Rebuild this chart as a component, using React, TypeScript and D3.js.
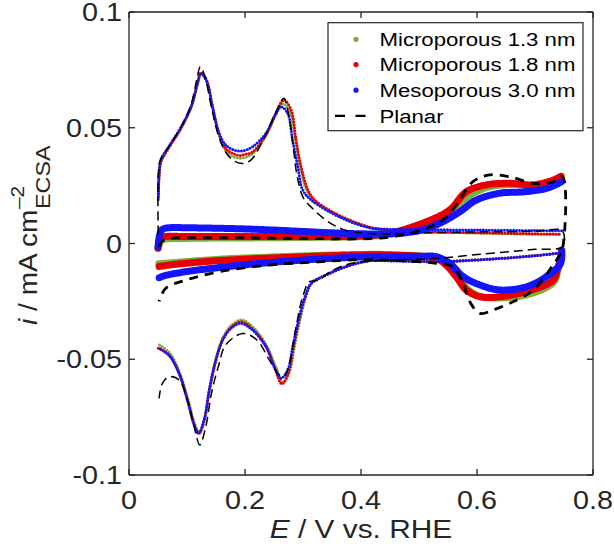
import React from 'react';
import * as d3 from 'd3';

type Pt = [number, number];

// axis ticks
const xTicks = [0, 0.2, 0.4, 0.6, 0.8];
const xTickLabels = ['0', '0.2', '0.4', '0.6', '0.8'];
const yTicks = [-0.1, -0.05, 0, 0.05, 0.1];
const yTickLabels = ['-0.1', '-0.05', '0', '0.05', '0.1'];

const seriesNames = ['Microporous 1.3 nm', 'Microporous 1.8 nm', 'Mesoporous 3.0 nm', 'Planar'];
const seriesColors = ['#7fae3c', '#e60000', '#1414ff', '#000000'];

// Microporous 1.3 nm
const micro13HAnodic: Pt[] = [
  [0.0505, 0.021], [0.052, 0.031], [0.055, 0.0365], [0.069, 0.0418], [0.089, 0.0495], [0.107, 0.059],
  [0.118, 0.069], [0.124, 0.0735], [0.134, 0.0702], [0.144, 0.059], [0.1555, 0.047], [0.167, 0.040],
  [0.18, 0.0375], [0.191, 0.0368], [0.2, 0.0372], [0.213, 0.0388], [0.236, 0.0465], [0.2535, 0.0558],
  [0.2655, 0.0605], [0.278, 0.0565], [0.287, 0.0447], [0.2955, 0.0332], [0.306, 0.0231], [0.318, 0.0188],
  [0.343, 0.0145], [0.378, 0.0102], [0.418, 0.0066], [0.45, 0.0056], [0.5, 0.005], [0.6, 0.0045],
  [0.7, 0.004], [0.746, 0.004],
];
const micro13HCathodic: Pt[] = [
  [0.746, -0.004], [0.7, -0.0052], [0.65, -0.0062], [0.6, -0.007], [0.55, -0.0076], [0.5, -0.0076],
  [0.45, -0.0073], [0.415, -0.0073], [0.376, -0.0098], [0.336, -0.014], [0.316, -0.0168], [0.305, -0.023],
  [0.294, -0.034], [0.2855, -0.0445], [0.277, -0.055], [0.2655, -0.06], [0.2535, -0.0535], [0.2385, -0.0446],
  [0.2155, -0.0365], [0.195, -0.033], [0.178, -0.035], [0.163, -0.04], [0.151, -0.0485], [0.1395, -0.062],
  [0.1305, -0.075], [0.1215, -0.0815], [0.1135, -0.078], [0.1015, -0.067], [0.087, -0.0555], [0.07, -0.0472],
  [0.05, -0.0434],
];
const micro13DlAnodic: Pt[] = [
  [0.05, -0.002], [0.055, 0.001], [0.06, 0.0018], [0.1, 0.0022], [0.2, 0.0024], [0.3, 0.0026], [0.4, 0.003],
  [0.45, 0.004], [0.52, 0.0085], [0.55, 0.012], [0.57, 0.0175], [0.6, 0.0225], [0.622, 0.0245], [0.66, 0.0255],
  [0.7, 0.025], [0.73, 0.0265], [0.746, 0.028],
];
const micro13DlCathodic: Pt[] = [
  [0.746, -0.004], [0.74, -0.011], [0.731, -0.017], [0.685, -0.0222], [0.639, -0.0235], [0.605, -0.0228],
  [0.585, -0.02], [0.567, -0.0145], [0.55, -0.0095], [0.53, -0.0065], [0.45, -0.0048], [0.386, -0.0048],
  [0.27, -0.0056], [0.155, -0.0068], [0.08, -0.0082], [0.049, -0.0088],
];

// Microporous 1.8 nm
const micro18HAnodic: Pt[] = [
  [0.0505, 0.019], [0.052, 0.029], [0.055, 0.035], [0.069, 0.0415], [0.089, 0.0495], [0.107, 0.059],
  [0.118, 0.069], [0.124, 0.0738], [0.134, 0.0705], [0.144, 0.059], [0.1555, 0.047], [0.167, 0.041],
  [0.18, 0.0388], [0.19, 0.038], [0.2, 0.0385], [0.213, 0.0396], [0.236, 0.047], [0.2535, 0.0565],
  [0.2666, 0.062], [0.2795, 0.0577], [0.288, 0.0447], [0.2967, 0.0332], [0.3086, 0.0231], [0.32, 0.0188],
  [0.345, 0.0145], [0.38, 0.0102], [0.42, 0.0068], [0.45, 0.0058], [0.5, 0.0052], [0.6, 0.0046],
  [0.7, 0.0042], [0.746, 0.004],
];
const micro18HCathodic: Pt[] = [
  [0.746, -0.004], [0.7, -0.0053], [0.65, -0.0063], [0.6, -0.0071], [0.55, -0.0077], [0.5, -0.0077],
  [0.45, -0.0074], [0.415, -0.0074], [0.375, -0.0099], [0.335, -0.0142], [0.315, -0.017], [0.3035, -0.0235],
  [0.292, -0.0345], [0.2835, -0.0448], [0.275, -0.056], [0.2635, -0.0607], [0.2515, -0.054], [0.237, -0.0448],
  [0.214, -0.0372], [0.194, -0.0338], [0.1765, -0.0362], [0.162, -0.0414], [0.1505, -0.05], [0.139, -0.063],
  [0.13, -0.076], [0.1205, -0.0822], [0.113, -0.0786], [0.101, -0.0678], [0.0866, -0.0563], [0.0693, -0.0484],
  [0.05, -0.0452],
];
const micro18DlAnodic: Pt[] = [
  [0.05, -0.002], [0.053, 0.0015], [0.06, 0.0028], [0.1, 0.003], [0.2, 0.003], [0.3, 0.003], [0.4, 0.0032],
  [0.45, 0.0045], [0.5125, 0.0094], [0.553, 0.0145], [0.5817, 0.0224], [0.616, 0.0253], [0.6566, 0.026],
  [0.697, 0.0253], [0.7313, 0.0274], [0.746, 0.0292],
];
const micro18DlCathodic: Pt[] = [
  [0.746, -0.003], [0.74, -0.01], [0.731, -0.0158], [0.685, -0.0208], [0.639, -0.023], [0.605, -0.023],
  [0.5817, -0.0201], [0.5643, -0.0143], [0.547, -0.0093], [0.53, -0.0065], [0.45, -0.005], [0.386, -0.005],
  [0.2707, -0.006], [0.1555, -0.0074], [0.08, -0.009], [0.049, -0.01],
];

// Mesoporous 3.0 nm
const meso30HAnodic: Pt[] = [
  [0.0505, 0.02], [0.052, 0.03], [0.055, 0.036], [0.069, 0.042], [0.089, 0.05], [0.107, 0.059],
  [0.118, 0.069], [0.124, 0.0735], [0.134, 0.07], [0.144, 0.059], [0.1555, 0.0476], [0.167, 0.0425],
  [0.181, 0.0404], [0.195, 0.04], [0.213, 0.0418], [0.236, 0.0476], [0.2535, 0.0562], [0.262, 0.0591],
  [0.2736, 0.0562], [0.282, 0.0447], [0.291, 0.0332], [0.2995, 0.0231], [0.314, 0.0188], [0.34, 0.0145],
  [0.374, 0.0102], [0.415, 0.0068], [0.45, 0.0062], [0.5, 0.006], [0.6, 0.0058], [0.7, 0.0056],
  [0.746, 0.0055],
];
const meso30HCathodic: Pt[] = [
  [0.746, -0.004], [0.7, -0.0053], [0.65, -0.0063], [0.6, -0.0071], [0.55, -0.0078], [0.5, -0.0078],
  [0.45, -0.0075], [0.415, -0.0075], [0.374, -0.01], [0.334, -0.0143], [0.314, -0.0172], [0.3024, -0.0237],
  [0.2909, -0.0345], [0.2822, -0.0446], [0.2736, -0.0546], [0.262, -0.0582], [0.2505, -0.0532], [0.2361, -0.0446],
  [0.2131, -0.0374], [0.193, -0.0345], [0.1757, -0.0366], [0.1613, -0.0417], [0.1497, -0.0503], [0.1382, -0.0633],
  [0.1296, -0.0762], [0.1198, -0.082], [0.1123, -0.0784], [0.1007, -0.0676], [0.0864, -0.0561], [0.0691, -0.0482],
  [0.05, -0.0449],
];
const meso30DlAnodic: Pt[] = [
  [0.05, -0.0015], [0.053, 0.004], [0.058, 0.0062], [0.07, 0.0068], [0.1, 0.0068], [0.15, 0.0066], [0.2, 0.0063],
  [0.25, 0.0058], [0.3, 0.0052], [0.35, 0.0046], [0.4, 0.0042], [0.45, 0.0042], [0.5, 0.0055], [0.541, 0.0094],
  [0.57, 0.0137], [0.599, 0.0188], [0.639, 0.0217], [0.685, 0.0224], [0.72, 0.0238], [0.746, 0.0267],
];
const meso30DlCathodic: Pt[] = [
  [0.746, -0.003], [0.744, -0.0086], [0.72, -0.0143], [0.685, -0.0187], [0.639, -0.0201], [0.605, -0.0179],
  [0.576, -0.0143], [0.553, -0.0086], [0.53, -0.0057], [0.5, -0.0056], [0.45, -0.0056], [0.4147, -0.0057],
  [0.329, -0.0067], [0.213, -0.0089], [0.098, -0.0122], [0.06, -0.014], [0.05, -0.015],
];

// Planar
const planarHAnodic: Pt[] = [
  [0.0505, 0.004], [0.0505, 0.03], [0.054, 0.036], [0.069, 0.042], [0.089, 0.05], [0.107, 0.06], [0.117, 0.071],
  [0.123, 0.0764], [0.131, 0.072], [0.142, 0.059], [0.155, 0.046], [0.168, 0.039], [0.182, 0.0355],
  [0.196, 0.0346], [0.21, 0.036], [0.232, 0.045], [0.252, 0.056], [0.267, 0.0627], [0.275, 0.056],
  [0.283, 0.042], [0.29, 0.029], [0.3, 0.02], [0.315, 0.0155], [0.34, 0.01], [0.37, 0.006], [0.42, 0.0042],
  [0.5, 0.0045], [0.6, 0.005], [0.7, 0.0052], [0.747, 0.0055],
];
const planarHCathodic: Pt[] = [
  [0.747, -0.0014], [0.7, -0.0025], [0.657, -0.0035], [0.6, -0.0048], [0.55, -0.006], [0.5, -0.0068],
  [0.45, -0.0072], [0.4, -0.008], [0.37, -0.0095], [0.345, -0.0125], [0.325, -0.016], [0.311, -0.0165],
  [0.2995, -0.023], [0.288, -0.036], [0.2765, -0.0518], [0.2678, -0.0575], [0.259, -0.0568], [0.2419, -0.0503],
  [0.2206, -0.0417], [0.1958, -0.0389], [0.1668, -0.0438], [0.154, -0.0532], [0.1422, -0.0647],
  [0.1324, -0.0791], [0.122, -0.087], [0.1123, -0.0791], [0.1007, -0.0676], [0.0864, -0.059], [0.069, -0.0575],
  [0.0576, -0.0604], [0.0518, -0.0669],
];
const planarDlAnodic: Pt[] = [
  [0.052, -0.0014], [0.058, 0.0012], [0.07, 0.0022], [0.1, 0.0024], [0.2, 0.0024], [0.3, 0.0022], [0.4, 0.002],
  [0.45, 0.0028], [0.5, 0.0055], [0.541, 0.0101], [0.565, 0.017], [0.593, 0.0267], [0.622, 0.0296],
  [0.657, 0.0288], [0.697, 0.026], [0.73, 0.0265], [0.747, 0.029],
];
const planarDlCathodic: Pt[] = [
  [0.747, -0.0028], [0.74, -0.006], [0.731, -0.0093], [0.697, -0.0201], [0.6566, -0.0258], [0.6278, -0.0287],
  [0.605, -0.0302], [0.5875, -0.0251], [0.576, -0.0172], [0.559, -0.0101], [0.53, -0.0086], [0.45, -0.0072],
  [0.386, -0.0071], [0.328, -0.0079], [0.2419, -0.0093], [0.1555, -0.0122], [0.098, -0.0158], [0.063, -0.0194],
  [0.052, -0.025],
];

const FONT = "'Liberation Sans', Arial, Helvetica, sans-serif";
const AXIS = '#262626';

const x = d3.scaleLinear().domain([0, 0.8]).range([129, 593]);
const y = d3.scaleLinear().domain([-0.1, 0.1]).range([475, 12]);

const line = d3
  .line<Pt>()
  .x((d) => x(d[0]))
  .y((d) => y(d[1]))
  .curve(d3.curveCatmullRom.alpha(0.5));

const dottedSeries = [
  { color: seriesColors[0], h: [micro13HAnodic, micro13HCathodic], dl: [micro13DlAnodic, micro13DlCathodic] },
  { color: seriesColors[1], h: [micro18HAnodic, micro18HCathodic], dl: [micro18DlAnodic, micro18DlCathodic] },
  { color: seriesColors[2], h: [meso30HAnodic, meso30HCathodic], dl: [meso30DlAnodic, meso30DlCathodic] },
];

function SText({ x, y, size, sx, anchor = 'start', fill = '#000', children }: any) {
  return (
    <text
      transform={`translate(${x},${y}) scale(${sx},1)`}
      fontSize={size}
      fontFamily={FONT}
      textAnchor={anchor}
      fill={fill}
    >
      {children}
    </text>
  );
}

export default function App() {
  const [x0, x1] = x.range();
  const [y0, y1] = y.range();
  const legendRows = [39.3, 64.6, 90.2, 115.8];

  return (
    <div style={{ position: 'absolute', left: 0, top: 0 }}>
      <svg width={614} height={548} style={{ display: 'block', background: '#fff' }}>
        {/* dotted series */}
        {dottedSeries.map((s, i) => (
          <g key={i}>
            {s.dl.map((pts, j) => (
              <path
                key={'dl' + j}
                d={line(pts) || ''}
                fill="none"
                stroke={s.color}
                strokeWidth={7}
                strokeLinecap="round"
                strokeDasharray="0 1.8"
              />
            ))}
            {s.h.map((pts, j) => (
              <path
                key={'h' + j}
                d={line(pts) || ''}
                fill="none"
                stroke={s.color}
                strokeWidth={3}
                strokeLinecap="round"
                strokeDasharray="0 3"
              />
            ))}
          </g>
        ))}

        {/* planar dashed */}
        <path
          d={line([...planarDlAnodic, ...planarDlCathodic]) || ''}
          fill="none"
          stroke="#000"
          strokeWidth={2.8}
          strokeDasharray="9 7"
        />
        <path
          d={line([...planarHAnodic, ...planarHCathodic]) || ''}
          fill="none"
          stroke="#000"
          strokeWidth={1.5}
          strokeDasharray="9 5"
        />

        {/* axes box */}
        <g stroke={AXIS} strokeWidth={1.3} fill="none">
          <line x1={x0} y1={y0} x2={x1} y2={y0} />
          <line x1={x0} y1={y1} x2={x1} y2={y1} />
          <line x1={x0} y1={y0} x2={x0} y2={y1} />
          <line x1={x1} y1={y0} x2={x1} y2={y1} />
          {xTicks.map((t) => (
            <g key={'xt' + t}>
              <line x1={x(t)} x2={x(t)} y1={y0} y2={y0 - 6} />
              <line x1={x(t)} x2={x(t)} y1={y1} y2={y1 + 6} />
            </g>
          ))}
          {yTicks.map((t) => (
            <g key={'yt' + t}>
              <line x1={x0} x2={x0 + 6} y1={y(t)} y2={y(t)} />
              <line x1={x1} x2={x1 - 6} y1={y(t)} y2={y(t)} />
            </g>
          ))}
        </g>

        {/* tick labels */}
        {xTicks.map((t, i) => (
          <SText key={'xl' + t} x={x(t)} y={508.5} size={25} sx={1.15} anchor="middle" fill={AXIS}>
            {xTickLabels[i]}
          </SText>
        ))}
        {yTicks.map((t, i) => (
          <SText key={'yl' + t} x={122} y={y(t) + 9} size={25} sx={1.15} anchor="end" fill={AXIS}>
            {yTickLabels[i]}
          </SText>
        ))}

        {/* axis titles */}
        <SText x={(x0 + x1) / 2} y={538} size={25.5} sx={1.17} anchor="middle" fill={AXIS}>
          <tspan fontStyle="italic">E</tspan>
          <tspan> / V vs. RHE</tspan>
        </SText>
        <g transform="translate(37,325) rotate(-90)">
          <SText x={0} y={0} size={26} sx={1.08} fill={AXIS}>
            <tspan fontStyle="italic">i</tspan>
            <tspan> / mA cm</tspan>
          </SText>
          <SText x={116} y={-13} size={19} sx={1.1} fill={AXIS}>
            {'\u20132'}
          </SText>
          <SText x={116} y={13} size={20.5} sx={1.14} fill={AXIS}>
            ECSA
          </SText>
        </g>

        {/* legend */}
        <rect x={328} y={22.7} width={255} height={108} fill="#fff" stroke={AXIS} strokeWidth={1.2} />
        {seriesNames.map((name, i) => (
          <g key={name}>
            {i < 3 ? (
              <circle cx={356} cy={legendRows[i]} r={2.6} fill={seriesColors[i]} />
            ) : (
              <line
                x1={335}
                x2={366}
                y1={legendRows[i]}
                y2={legendRows[i]}
                stroke="#000"
                strokeWidth={2.2}
                strokeDasharray="10 10.5"
              />
            )}
            <SText x={379.5} y={legendRows[i] + 6.8} size={18.8} sx={1.18}>
              {name}
            </SText>
          </g>
        ))}
      </svg>
    </div>
  );
}
